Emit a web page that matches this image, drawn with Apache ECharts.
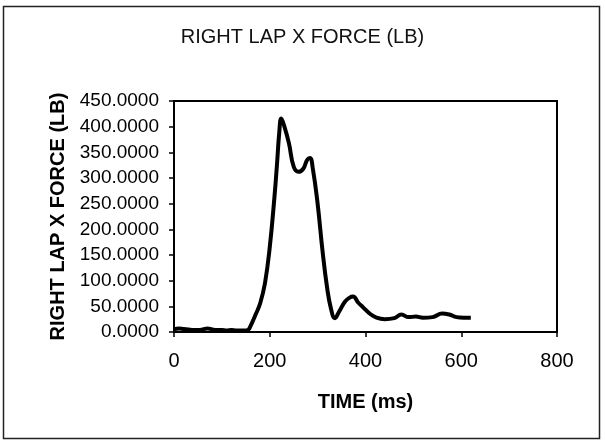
<!DOCTYPE html>
<html>
<head>
<meta charset="utf-8">
<script src="https://cdn.jsdelivr.net/npm/echarts@6/dist/echarts.min.js"></script>
<style>
html,body{margin:0;padding:0;background:#fff;}
#chart{width:605px;height:442px;}
</style>
</head>
<body>
<div id="chart"></div>
<script>
const titleText = 'RIGHT LAP X FORCE (LB)';
const xAxisName = 'TIME (ms)';
const yAxisName = 'RIGHT LAP X FORCE (LB)';
const time = [0,10,20,30,40,50,60,70,80,90,100,110,120,130,140,150,155,160,170,180,190,200,210,215,220,224,230,240,250,260,270,278,284,290,300,310,320,328,336,345,357,367,374,385,395,410,423,440,460,475,490,505,520,540,560,575,590,605,620];
const force = [5,7,6,5,4,4,5,7,5,4,4,3,4,3,3,3,4,12,33,56,95,165,265,325,390,416,402,368,322,312,318,335,339,318,250,160,85,45,27,40,59,67,69,57,48,35,28,25,27,34,29,30,28,29,36,34,29,28,28];
const xTicks = [0,200,400,600,800];
const yTicks = [0,50,100,150,200,250,300,350,400,450];

const chart = echarts.init(document.getElementById('chart'), null, {renderer:'canvas'});
const pts = time.map((t,i)=>[t, force[i]]);
chart.setOption({
  animation:false,
  backgroundColor:'#fff',
  title:{text:titleText,left:'center',top:22,
    textStyle:{fontFamily:'Liberation Sans, Arial',fontSize:20,fontWeight:'normal',color:'#111'}},
  graphic:[{type:'rect',shape:{x:3.5,y:6.5,width:596,height:432},
    style:{fill:'none',stroke:'#222',lineWidth:1.5},silent:true}],
  grid:{left:174,top:101,width:383,height:231,show:true,borderColor:'#000',borderWidth:2,backgroundColor:'#fff'},
  xAxis:{type:'value',min:0,max:800,interval:200,
    name:xAxisName,nameLocation:'middle',nameGap:60,
    nameTextStyle:{fontFamily:'Liberation Sans, Arial',fontSize:20,fontWeight:'bold',color:'#000'},
    axisLine:{show:true,lineStyle:{color:'#000',width:2}},
    axisTick:{show:true,length:5,lineStyle:{color:'#000',width:1.5}},
    axisLabel:{fontFamily:'Liberation Sans, Arial',fontSize:20,color:'#000',margin:19},
    splitLine:{show:false}},
  yAxis:{type:'value',min:0,max:450,interval:50,
    name:yAxisName,nameLocation:'middle',nameGap:100,
    nameTextStyle:{fontFamily:'Liberation Sans, Arial',fontSize:20,fontWeight:'bold',color:'#000'},
    axisLine:{show:true,lineStyle:{color:'#000',width:2}},
    axisTick:{show:true,length:5,lineStyle:{color:'#000',width:1.5}},
    axisLabel:{fontFamily:'Liberation Sans, Arial',fontSize:19,color:'#000',margin:15,
      formatter:v=>v.toFixed(4)},
    splitLine:{show:false}},
  series:[{type:'line',data:pts,smooth:0.45,symbol:'none',
    lineStyle:{color:'#000',width:4}}]
});
</script>
</body>
</html>
